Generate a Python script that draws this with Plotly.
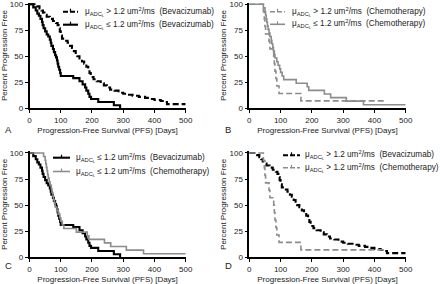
import plotly.graph_objects as go

# ---------------- data ----------------
day_ticks = [0, 100, 200, 300, 400, 500]
pct_ticks = [0, 25, 50, 75, 100]

# Bevacizumab, mu_ADC_L > 1.2
bev_hi_t = [0, 25, 32, 38, 43, 48, 55, 65, 75, 85, 90, 93, 97, 100, 104, 112, 122, 130, 136, 142, 148,
            153, 160, 168, 175, 182, 188, 192, 196, 205, 215, 228, 238, 248, 258, 272, 285, 300, 315,
            330, 350, 370, 385, 400, 420, 432, 440, 500]
bev_hi_s = [100, 98, 96, 94, 92, 90, 88, 86, 84, 82, 80, 77, 74, 70, 67, 65, 63, 60, 58, 55, 52,
            50, 48, 45, 43, 40, 38, 34, 30, 28, 26, 24, 22, 20, 18, 17, 15, 14, 13,
            12, 11, 10, 9, 8, 7, 6, 4, 4]

# Bevacizumab, mu_ADC_L <= 1.2
bev_lo_t = [0, 12, 20, 25, 30, 35, 40, 42, 45, 50, 55, 60, 65, 68, 70, 75, 78, 82, 85, 88, 90, 92, 95,
            98, 100, 140, 160, 170, 178, 182, 188, 192, 197, 220, 270, 290]
bev_lo_s = [100, 97, 94, 91, 89, 86, 83, 80, 77, 74, 71, 69, 66, 63, 60, 57, 54, 51, 49, 46, 43, 40, 37,
            34, 31, 29, 26, 23, 20, 17, 14, 11, 9, 6, 3, 0]

# Chemotherapy, mu_ADC_L > 1.2
chemo_hi_t = [0, 45, 48, 50, 52, 63, 66, 78, 80, 82, 85, 88, 95, 165, 435]
chemo_hi_s = [100, 92.9, 85.7, 78.6, 71.4, 64.3, 57.1, 50, 42.9, 35.7, 28.6, 21.4, 14.3, 7.1, 7.1]

# Chemotherapy, mu_ADC_L <= 1.2
chemo_lo_t = [0, 45, 50, 52, 54, 56, 58, 60, 63, 66, 70, 72, 75, 77, 80, 82, 88, 92, 97, 100, 105,
              110, 150, 185, 190, 240, 260, 310, 365, 500]
chemo_lo_s = [100, 96.6, 93.1, 89.7, 86.2, 82.8, 79.3, 75.9, 72.4, 69, 65.5, 62.1, 58.6, 55.2, 51.7,
              48.3, 44.8, 41.4, 37.9, 34.5, 31, 27.6, 24.1, 20.7, 17.2, 13.8, 10.3, 6.9, 3.4, 3.4]

NB = "\u00a0"
label_hi_bev = "μ<sub>ADC<sub>L</sub></sub> > 1.2 um<sup>2</sup>/ms" + NB * 2 + "(Bevacizumab)"
label_lo_bev = "μ<sub>ADC<sub>L</sub></sub> ≤ 1.2 um<sup>2</sup>/ms" + NB * 2 + "(Bevacizumab)"
label_hi_chemo = "μ<sub>ADC<sub>L</sub></sub> > 1.2 um<sup>2</sup>/ms" + NB * 2 + "(Chemotherapy)"
label_lo_chemo = "μ<sub>ADC<sub>L</sub></sub> ≤ 1.2 um<sup>2</sup>/ms" + NB * 2 + "(Chemotherapy)"

panel_letters = ["A", "B", "C", "D"]
x_title = "Progression-Free Survival (PFS) [Days]"
y_title = "Percent Progression Free"

# ---------------- styling ----------------
W, H = 440, 284
BLACK = "#000000"
GRAY = "#8c8c8c"
TXT = "#222222"
FONT = "Liberation Sans"

series = {
    "bev_hi": dict(t=bev_hi_t, s=bev_hi_s, color=BLACK, dash="6px,3px", width=2.1, label=label_hi_bev),
    "bev_lo": dict(t=bev_lo_t, s=bev_lo_s, color=BLACK, dash="solid", width=2.1, label=label_lo_bev),
    "chemo_hi": dict(t=chemo_hi_t, s=chemo_hi_s, color=GRAY, dash="6px,3px", width=1.6, label=label_hi_chemo),
    "chemo_lo": dict(t=chemo_lo_t, s=chemo_lo_s, color=GRAY, dash="solid", width=1.6, label=label_lo_chemo),
}

def px(x):
    return x / W

def py(y):
    return 1 - y / H

# panel geometry in pixels: (x_left, x_right, y_top(=100%), y_bottom(=0%))
panels = [
    dict(box=(29.5, 185.7, 4.3, 108.3), keys=["bev_hi", "bev_lo"],
         leg=[(63, 78, 83, 11.7), (63, 78, 83, 24.7)], letter=(3, 129)),
    dict(box=(249.3, 405.7, 4.3, 108.3), keys=["chemo_hi", "chemo_lo"],
         leg=[(270, 285, 290, 11.7), (270, 285, 290, 24.3)], letter=(223, 129)),
    dict(box=(29.5, 185.7, 153.0, 257.3), keys=["bev_lo", "chemo_lo"],
         leg=[(53, 70, 74, 157.7), (53, 70, 74, 171.5)], letter=(3, 265)),
    dict(box=(249.3, 405.7, 153.0, 257.3), keys=["bev_hi", "chemo_hi"],
         leg=[(283, 300, 303, 155.3), (283, 300, 303, 167.8)], letter=(223, 265)),
]

YMAX = 101.5
fig = go.Figure()
shapes = []
annotations = []

for i, p in enumerate(panels):
    n = "" if i == 0 else str(i + 1)
    xl, xr, yt, yb = p["box"]
    ppu = (yb - yt) / 100.0
    ytop_px = yt - (YMAX - 100) * ppu
    for k in p["keys"]:
        s = series[k]
        fig.add_trace(go.Scatter(
            x=s["t"], y=s["s"], mode="lines", line_shape="hv",
            line=dict(color=s["color"], width=s["width"], dash=s["dash"]),
            xaxis="x" + n, yaxis="y" + n, showlegend=False, hoverinfo="skip",
        ))
    axfont = dict(family=FONT, size=8, color=TXT)
    fig.update_layout(**{
        "xaxis" + n: dict(domain=[px(xl), px(xr)], anchor="y" + n, range=[0, 500], automargin=False,
                          tickvals=day_ticks, ticks="outside", ticklen=3, tickwidth=1.3,
                          tickcolor=BLACK, showline=True, linecolor=BLACK, linewidth=1.5,
                          showgrid=False, zeroline=False, tickfont=axfont,
                          title=dict(text=x_title, font=dict(family=FONT, size=8, color=TXT), standoff=4)),
        "yaxis" + n: dict(domain=[py(yb), py(ytop_px)], anchor="x" + n, range=[0, YMAX], automargin=False,
                          tickvals=pct_ticks, ticks="outside", ticklen=3, tickwidth=1.3,
                          tickcolor=BLACK, showline=True, linecolor=BLACK, linewidth=1.5,
                          showgrid=False, zeroline=False, tickfont=axfont,
                          title=dict(text=y_title, font=dict(family=FONT, size=8, color=TXT), standoff=2)),
    })
    # legend rows
    for (x0, x1, xt, yc), k in zip(p["leg"], p["keys"]):
        s = series[k]
        shapes.append(dict(type="line", xref="paper", yref="paper", x0=px(x0), x1=px(x1),
                           y0=py(yc), y1=py(yc),
                           line=dict(color=s["color"], width=s["width"],
                                     dash="5px,2px" if s["dash"] != "solid" else "solid")))
        xm = (x0 + x1) / 2
        shapes.append(dict(type="line", xref="paper", yref="paper", x0=px(xm), x1=px(xm),
                           y0=py(yc), y1=py(yc - 3),
                           line=dict(color=s["color"], width=1.2)))
        annotations.append(dict(text=s["label"], xref="paper", yref="paper", x=px(xt), y=py(yc),
                                xanchor="left", yanchor="middle", showarrow=False,
                                font=dict(family=FONT, size=8.2, color=TXT)))
    lx, ly = p["letter"]
    annotations.append(dict(text=panel_letters[i], xref="paper", yref="paper", x=px(lx), y=py(ly),
                            xanchor="left", yanchor="middle", showarrow=False,
                            font=dict(family=FONT, size=9.5, color=TXT)))

fig.update_layout(width=W, height=H, margin=dict(l=0, r=0, t=0, b=0),
                  paper_bgcolor="white", plot_bgcolor="white",
                  shapes=shapes, annotations=annotations, showlegend=False)

fig.write_html("out.html", config={"displayModeBar": False},
               post_script="document.body.style.margin='0';document.body.style.padding='0';")
